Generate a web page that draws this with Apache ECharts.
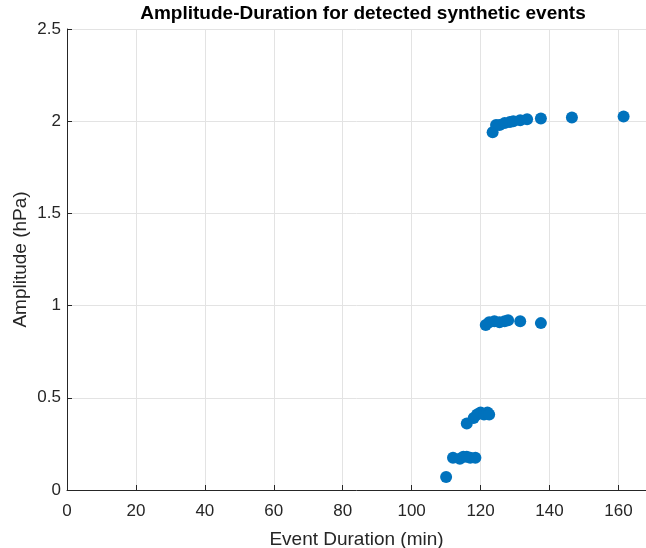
<!DOCTYPE html>
<html>
<head>
<meta charset="utf-8">
<script src="https://cdn.jsdelivr.net/npm/echarts@6/dist/echarts.min.js"></script>
<style>
  html, body { margin: 0; padding: 0; background: #fff; }
  #chart { width: 646px; height: 548px; }
</style>
</head>
<body>
<div id="chart"></div>
<script>
// event duration (min) and amplitude (hPa)
let durations = [
    110, 112, 114, 115, 116, 117, 118.5,
    116, 118, 119, 120, 121, 122, 122.5,
    121.5, 122.5, 124, 125.5, 127, 128, 131.5, 137.5,
    123.5, 124.5, 125.5, 127, 128.5, 129.5, 131.5, 133.5, 137.5, 146.5, 161.5
];
let amplitudes = [
    0.07, 0.175, 0.17, 0.18, 0.18, 0.175, 0.175,
    0.36, 0.39, 0.41, 0.42, 0.41, 0.42, 0.41,
    0.895, 0.91, 0.915, 0.91, 0.915, 0.92, 0.915, 0.905,
    1.94, 1.98, 1.98, 1.99, 1.995, 2.0, 2.005, 2.01, 2.015, 2.02, 2.025
];

let chart = echarts.init(document.getElementById("chart"));
let font = "Liberation Sans, Arial, Helvetica, sans-serif";
let axisColor = "#262626";

let option = {
    backgroundColor: "#fff",
    animation: false,
    title: {
        text: "Amplitude-Duration for detected synthetic events",
        left: 358,
        textAlign: "center",
        top: -1,
        textStyle: { fontFamily: font, fontSize: 19, fontWeight: "bold", color: "#000" }
    },
    grid: { left: 67, right: 0, top: 29, bottom: 58, containLabel: false, outerBoundsMode: "none" },
    xAxis: {
        type: "value",
        min: 0,
        max: 168,
        interval: 20,
        name: "Event Duration (min)",
        nameLocation: "middle",
        nameGap: 40,
        nameMoveOverlap: false,
        nameTextStyle: { fontFamily: font, fontSize: 19, color: axisColor },
        axisLine: { show: true, onZero: false, lineStyle: { color: axisColor, width: 1 } },
        axisTick: { show: true, inside: true, length: 5, lineStyle: { color: axisColor } },
        axisLabel: { fontFamily: font, fontSize: 17, color: axisColor, margin: 13, showMaxLabel: false },
        splitLine: { show: true, lineStyle: { color: "#e3e3e3", width: 1 } }
    },
    yAxis: {
        type: "value",
        min: 0,
        max: 2.5,
        interval: 0.5,
        name: "Amplitude (hPa)",
        nameLocation: "middle",
        nameGap: 37,
        nameMoveOverlap: false,
        nameTextStyle: { fontFamily: font, fontSize: 19, color: axisColor },
        axisLine: { show: true, onZero: false, lineStyle: { color: axisColor, width: 1 } },
        axisTick: { show: true, inside: true, length: 5, lineStyle: { color: axisColor } },
        axisLabel: { fontFamily: font, fontSize: 17, color: axisColor, margin: 6 },
        splitLine: { show: true, lineStyle: { color: "#e3e3e3", width: 1 } }
    },
    series: [
        {
            type: "scatter",
            symbol: "circle",
            symbolSize: 12,
            itemStyle: { color: "#0072BD", opacity: 1 },
            data: durations.map((d, i) => [d, amplitudes[i]])
        }
    ]
};
chart.setOption(option);
</script>
</body>
</html>
